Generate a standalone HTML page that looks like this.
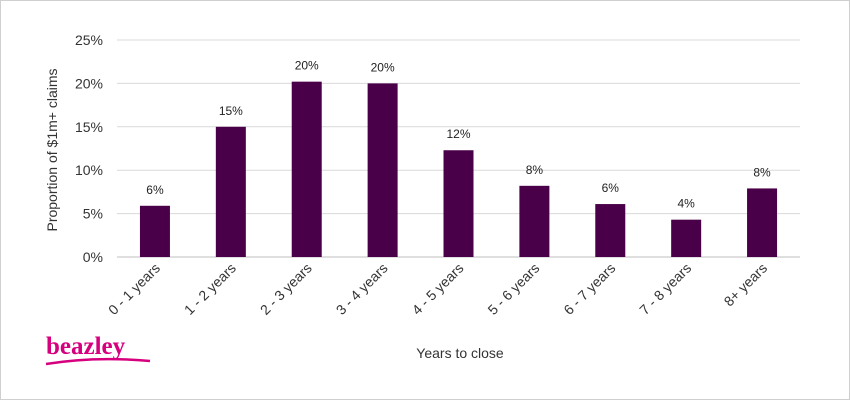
<!DOCTYPE html>
<html><head><meta charset="utf-8"><style>
html,body{margin:0;padding:0;background:#fff}
svg{display:block;font-family:"Liberation Sans",Arial,sans-serif}
</style></head><body>
<svg width="850" height="400" viewBox="0 0 850 400">
<rect x="0.5" y="0.5" width="849" height="399" fill="#fff" stroke="#cfcfcf"/>
<g id="grid"></g>
<g id="bars"></g>
<text x="57" y="150" transform="rotate(-90 57 150)" text-anchor="middle" font-size="14" fill="#333">Proportion of $1m+ claims</text>
<text x="460" y="358" text-anchor="middle" font-size="14" fill="#333">Years to close</text>
<g>
<text x="46" y="354" font-family="Liberation Serif,serif" font-size="25" font-weight="bold" fill="#d6007e">beazley</text>
<path d="M46 364 Q95 356 150 361" stroke="#d6007e" stroke-width="2.5" fill="none"/>
</g>
<script>
const categories=["0 - 1 years","1 - 2 years","2 - 3 years","3 - 4 years","4 - 5 years","5 - 6 years","6 - 7 years","7 - 8 years","8+ years"];
const values=[5.9,15.0,20.2,20.0,12.3,8.2,6.1,4.3,7.9];
const valueLabels=["6%","15%","20%","20%","12%","8%","6%","4%","8%"];
const yTicks=[0,5,10,15,20,25];
const NS="http://www.w3.org/2000/svg";
const x0=117,x1=800,y0=257,y25=40;
const band=(x1-x0)/categories.length;
const yS=v=>y0-(y0-y25)*v/25;
const xC=i=>x0+band*(i+0.5);
const grid=document.getElementById('grid'),bars=document.getElementById('bars');
function mk(tag,attrs,parent){const e=document.createElementNS(NS,tag);for(const k in attrs)e.setAttribute(k,attrs[k]);parent.appendChild(e);return e;}
yTicks.forEach(t=>{
 const l=mk('line',{x1:x0,x2:x1,y1:yS(t),y2:yS(t),stroke:t===0?'#bfbfbf':'#d9d9d9','stroke-width':1},grid);
 
 
 const tx=mk('text',{x:103,y:yS(t)+5,'text-anchor':'end','font-size':14,fill:'#333'},grid);
 tx.textContent=t+'%';
 
 
});
categories.forEach((c,i)=>{
 const v=values[i],cx=xC(i);
 const r=mk('rect',{x:cx-15,y:yS(v),width:30,height:y0-yS(v),fill:'#4a0048'},bars);
 
 
 const vl=mk('text',{x:cx,y:yS(v)-12,'text-anchor':'middle','font-size':12,fill:'#222'},bars);
 vl.textContent=valueLabels[i];
 
 
 const tl=mk('text',{x:cx+6,y:y0+12,'text-anchor':'end','font-size':14,fill:'#333',transform:`rotate(-45 ${cx+6} ${y0+12})`},bars);
 tl.textContent=c;
 
 
});
</script>
</svg>
</body></html>
